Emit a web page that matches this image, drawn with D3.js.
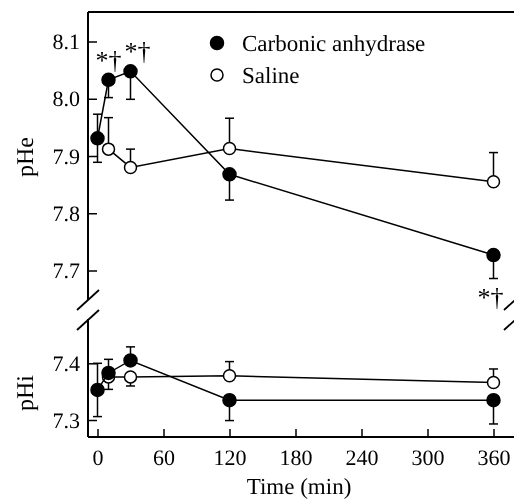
<!DOCTYPE html>
<html>
<head>
<meta charset="utf-8">
<script src="https://cdn.jsdelivr.net/npm/d3@7"></script>
<style>
  svg { opacity: 0.999; will-change: transform; }
  svg text { text-rendering: geometricPrecision; }
</style>
</head>
<body style="margin:0">
<script>
// time points (min)
const caTimes = [0, 10, 30, 120, 360];
const salineTimes = [10, 30, 120, 360];
const xTicks = [0, 60, 120, 180, 240, 300, 360];

// extracellular pH
const caPHe = [7.931, 8.033, 8.048, 7.868, 7.727];
const caPHeErr = [0.042, 0.031, 0.049, 0.045, 0.041];
const caPHeDir = ['both', 'down', 'down', 'down', 'down'];
const salPHe = [7.912, 7.880, 7.913, 7.855];
const salPHeErr = [0.055, 0.032, 0.053, 0.051];
const salPHeDir = ['up', 'up', 'up', 'up'];
const pHeTicks = [7.7, 7.8, 7.9, 8.0, 8.1];

// intracellular pH
const caPHi = [7.353, 7.383, 7.405, 7.335, 7.335];
const caPHiErr = [0.047, 0.024, 0.024, 0.036, 0.042];
const caPHiDir = ['both', 'up', 'up', 'down', 'down'];
const salPHi = [7.376, 7.376, 7.378, 7.366];
const salPHiErr = [0.022, 0.016, 0.025, 0.024];
const salPHiDir = ['down', 'down', 'up', 'up'];
const pHiTicks = [7.3, 7.4];

// significance marks [time, pHe level of baseline]
const sigMarks = [[10, 8.052], [30, 8.068], [360, 7.638]];

const FONT = 'Liberation Serif';
const W = 514, H = 499;
const axisX = 88, topY = 12, bottomY = 437, rightX = 515;
const TILT = 'rotate(0.01)';

const svg = d3.select('body').append('svg')
  .attr('width', W).attr('height', H);

const x = d3.scaleLinear().domain([0, 360]).range([97.5, 493.5]);
const yTop = d3.scaleLinear().domain([7.7, 8.1]).range([270.5, 41.5]);
const yBot = d3.scaleLinear().domain([7.3, 7.4]).range([420, 363.3]);

svg.append('rect').attr('width', W).attr('height', H).attr('fill', '#fff');

function hline(x1, x2, y) {
  svg.append('line').attr('x1', x1).attr('x2', x2).attr('y1', y).attr('y2', y)
    .attr('stroke', '#000').attr('stroke-width', 2);
}
function vline(xx, y1, y2) {
  svg.append('line').attr('x1', xx).attr('x2', xx).attr('y1', y1).attr('y2', y2)
    .attr('stroke', '#000').attr('stroke-width', 2);
}

// frame lines
hline(axisX, rightX, topY);
hline(axisX, rightX, bottomY);
vline(axisX, topY, 300);
vline(axisX, 319, bottomY);

// axis breaks
[axisX, rightX].forEach(cx => {
  [0, 20].forEach(off => {
    svg.append('line')
      .attr('x1', cx - 11).attr('y1', 310 + off)
      .attr('x2', cx + 11).attr('y2', 290 + off)
      .attr('stroke', '#000').attr('stroke-width', 1.8);
  });
});

function styleAxis(g) {
  g.attr('font-family', FONT).attr('font-size', 22);
  g.select('.domain').remove();
  g.selectAll('.tick line').attr('stroke', '#000').attr('stroke-width', 1.5);
  g.selectAll('.tick text').attr('transform', TILT);
}

svg.append('g').attr('transform', `translate(${axisX},0)`)
  .call(d3.axisLeft(yTop).tickValues(pHeTicks).tickFormat(d3.format('.1f')).tickSizeInner(-9).tickPadding(8))
  .call(styleAxis);
svg.append('g').attr('transform', `translate(${axisX},0)`)
  .call(d3.axisLeft(yBot).tickValues(pHiTicks).tickFormat(d3.format('.1f')).tickSizeInner(-9).tickPadding(8))
  .call(styleAxis);
svg.append('g').attr('transform', `translate(0,${bottomY})`)
  .call(d3.axisBottom(x).tickValues(xTicks).tickSizeInner(-8).tickPadding(12))
  .call(styleAxis);

function label(sel, size) {
  return sel.attr('font-family', FONT).attr('font-size', size);
}

// axis titles
label(svg.append('text'), 23).attr('transform', `translate(299,494) ${TILT}`)
  .attr('text-anchor', 'middle').text('Time (min)');
label(svg.append('text'), 24).attr('transform', 'translate(33,157) rotate(-90)')
  .attr('text-anchor', 'middle').text('pHe');
label(svg.append('text'), 24).attr('transform', 'translate(33,393) rotate(-90)')
  .attr('text-anchor', 'middle').text('pHi');

function drawSeries(times, vals, errs, dirs, y, filled) {
  const g = svg.append('g');
  const cap = 4.5;
  times.forEach((t, i) => {
    const cx = x(t);
    const ends = [];
    if (dirs[i] === 'up' || dirs[i] === 'both') ends.push(vals[i] + errs[i]);
    if (dirs[i] === 'down' || dirs[i] === 'both') ends.push(vals[i] - errs[i]);
    ends.forEach(v => {
      g.append('line').attr('x1', cx).attr('x2', cx)
        .attr('y1', y(vals[i])).attr('y2', y(v))
        .attr('stroke', '#000').attr('stroke-width', 1.5);
      g.append('line').attr('x1', cx - cap).attr('x2', cx + cap)
        .attr('y1', y(v)).attr('y2', y(v))
        .attr('stroke', '#000').attr('stroke-width', 1.5);
    });
  });
  const line = d3.line().x((d, i) => x(times[i])).y(d => y(d));
  g.append('path').datum(vals).attr('d', line)
    .attr('fill', 'none').attr('stroke', '#000').attr('stroke-width', 1.5);
  g.selectAll('circle').data(vals).enter().append('circle')
    .attr('cx', (d, i) => x(times[i]))
    .attr('cy', d => y(d))
    .attr('r', filled ? 6.5 : 6)
    .attr('fill', filled ? '#000' : '#fff')
    .attr('stroke', '#000').attr('stroke-width', 1.5);
}

drawSeries(salineTimes, salPHe, salPHeErr, salPHeDir, yTop, false);
drawSeries(caTimes, caPHe, caPHeErr, caPHeDir, yTop, true);
drawSeries(salineTimes, salPHi, salPHiErr, salPHiDir, yBot, false);
drawSeries(caTimes, caPHi, caPHiErr, caPHiDir, yBot, true);

// significance marks
const sigShift = [0, 7, -3];
svg.selectAll('.sig').data(sigMarks).enter().append('text')
  .attr('class', 'sig')
  .attr('transform', (d, i) => `translate(${x(d[0]) + sigShift[i]},${yTop(d[1])}) ${TILT}`)
  .attr('text-anchor', 'middle')
  .attr('font-family', FONT).attr('font-size', 26)
  .text('*\u2020');

// legend
const legend = [['Carbonic anhydrase', true], ['Saline', false]];
legend.forEach((d, i) => {
  const ly = 43 + i * 32;
  svg.append('circle').attr('cx', 217).attr('cy', ly).attr('r', d[1] ? 6.5 : 6)
    .attr('fill', d[1] ? '#000' : '#fff').attr('stroke', '#000').attr('stroke-width', 1.5);
  label(svg.append('text'), 23).attr('transform', `translate(242,${ly + 8}) ${TILT}`).text(d[0]);
});
</script>
</body>
</html>
